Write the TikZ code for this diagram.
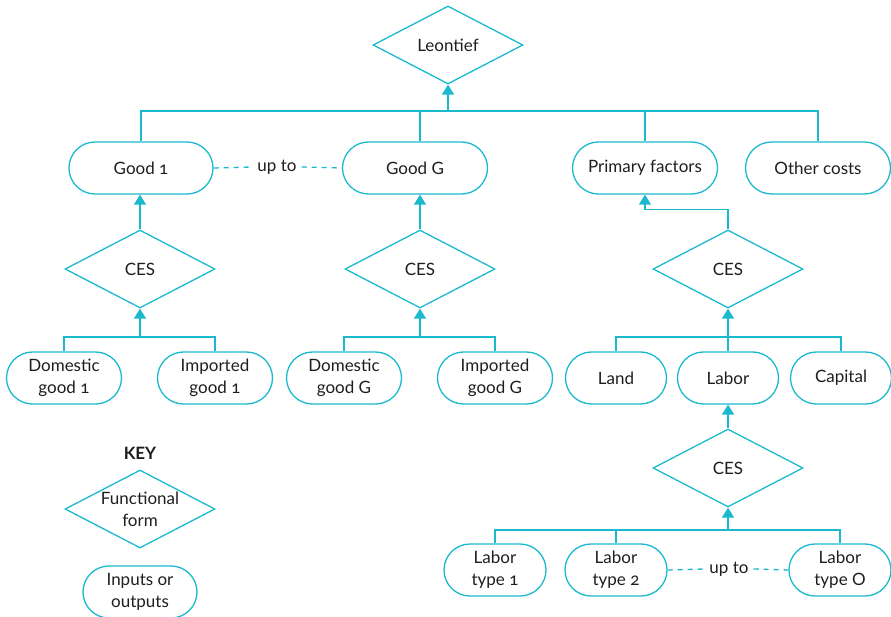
\documentclass[tikz,border=0pt]{standalone}
\usepackage{fontspec}
\setmainfont{Lato}[Numbers=OldStyle]
\usetikzlibrary{shapes.geometric,arrows.meta}
\definecolor{nestcyan}{RGB}{26,185,206}
\definecolor{nesttext}{RGB}{30,30,30}
\tikzset{
  fform/.style={diamond, draw=nestcyan, line width=1.3pt, inner sep=0pt, aspect=1.9,
    minimum width=150pt, minimum height=78pt, align=center, text=nesttext},
  inout/.style={rectangle, rounded corners=26pt, draw=nestcyan, line width=1.3pt,
    minimum height=52pt, inner sep=2pt, align=center, text=nesttext},
  link/.style={draw=nestcyan, line width=1.3pt},
  feed/.style={link, -{Triangle[width=12pt,length=10pt]}},
  uptoline/.style={link, dash pattern=on 5pt off 5pt},
  uptotext/.style={text=nesttext, inner sep=5pt}
}
\begin{document}
\begin{tikzpicture}[x=1pt, y=-1pt, font=\fontsize{17}{22}\selectfont]

\def\yB{168}  
\def\yC{269}  
\def\yD{378}  
\def\yE{468}  
\def\yF{570}  
\def\busA{111}
\def\busB{337}
\def\busC{530}

\useasboundingbox (0,0) rectangle (891,617);

\node[fform] (leontief) at (448,45) {Leontief};

\node[inout, minimum width=144pt] (good1)   at (141,\yB) {Good 1};
\node[inout, minimum width=145pt] (goodG)   at (415,\yB) {Good G};
\node[inout, minimum width=145pt] (primary) at (645,\yB) {Primary factors};
\node[inout, minimum width=145pt] (other)   at (818,\yB) {Other costs};
\node[uptotext] (upto1) at (277,167) {up to};

\node[fform] (ces1) at (140,\yC) {CES};
\node[fform] (cesG) at (420,\yC) {CES};
\node[fform] (cesF) at (728,\yC) {CES};

\node[inout, minimum width=115pt] (dom1)    at (64,\yD)  {Domestic\\good 1};
\node[inout, minimum width=115pt] (imp1)    at (215,\yD) {Imported\\good 1};
\node[inout, minimum width=115pt] (domG)    at (344,\yD) {Domestic\\good G};
\node[inout, minimum width=115pt] (impG)    at (495,\yD) {Imported\\good G};
\node[inout, minimum width=101pt] (land)    at (616,\yD) {Land};
\node[inout, minimum width=101pt] (labor)   at (728,\yD) {Labor};
\node[inout, minimum width=101pt] (capital) at (841,\yD) {Capital};

\node[fform] (cesL) at (728,\yE) {CES};

\node[inout, minimum width=102pt] (type1) at (495,\yF) {Labor\\type 1};
\node[inout, minimum width=102pt] (type2) at (616,\yF) {Labor\\type 2};
\node[inout, minimum width=102pt] (typeO) at (840,\yF) {Labor\\type O};
\node[uptotext] (upto2) at (729,569) {up to};

\node[text=nesttext, font=\fontsize{17}{22}\selectfont\bfseries] (keyhead) at (140,453) {KEY};
\node[fform] (keyform) at (140,509) {Functional\\form};
\node[inout, minimum width=114pt] (keyio) at (140,592) {Inputs or\\outputs};

\coordinate (bustop) at (448,\busA);
\draw[link] (good1.north) -- (good1.north |- bustop) -- (other.north |- bustop) -- (other.north);
\draw[link] (cesG.north |- goodG.north) -- (cesG.north |- bustop);
\draw[link] (primary.north) -- (primary.north |- bustop);
\draw[feed] (bustop) -- (leontief.south);

\draw[uptoline] (good1.east) -- (upto1.west);
\draw[uptoline] (upto1.east) -- (goodG.west);

\draw[feed] (ces1.north) -- (ces1.north |- good1.south);
\draw[feed] (cesG.north) -- (cesG.north |- goodG.south);
\draw[feed] (cesF.north) -- ++(0,-20) -| (primary.south);

\coordinate (bus1) at (140,\busB);
\draw[link] (dom1.north) -- (dom1.north |- bus1) -- (imp1.north |- bus1) -- (imp1.north);
\draw[feed] (bus1) -- (ces1.south);

\coordinate (busG) at (420,\busB);
\draw[link] (domG.north) -- (domG.north |- busG) -- (impG.north |- busG) -- (impG.north);
\draw[feed] (busG) -- (cesG.south);

\draw[link] (land.north) -- (land.north |- busG) -- (capital.north |- busG) -- (capital.north);
\draw[feed] (labor.north) -- (cesF.south);

\draw[feed] (cesL.north) -- (labor.south);

\coordinate (busL) at (728,\busC);
\draw[link] (type1.north) -- (type1.north |- busL) -- (typeO.north |- busL) -- (typeO.north);
\draw[link] (type2.north) -- (type2.north |- busL);
\draw[feed] (busL) -- (cesL.south);

\draw[uptoline] (type2.east) -- (upto2.west);
\draw[uptoline] (upto2.east) -- (typeO.west);
\end{tikzpicture}
\end{document}
